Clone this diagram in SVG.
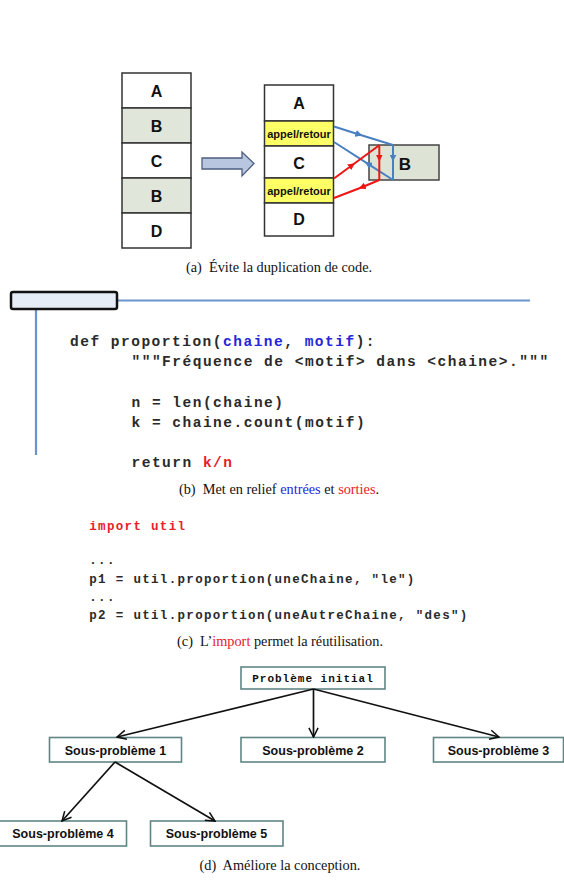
<svg xmlns="http://www.w3.org/2000/svg" width="564" height="896" viewBox="0 0 564 896">
<style>
  .cell{stroke:#333;stroke-width:1.5}
  .white{fill:#fff}
  .green{fill:#e0e6da}
  .yellow{fill:#ffff66}
  .big{font-family:"Liberation Sans",Arial,sans-serif;font-weight:bold;font-size:16px;fill:#111;text-anchor:middle}
  .small{font-family:"Liberation Sans",Arial,sans-serif;font-weight:bold;font-size:11px;fill:#111;text-anchor:middle}
  .cap{font-family:"Liberation Serif","Times New Roman",serif;font-size:14.3px;fill:#111;text-anchor:middle}
  .code{font-family:"Liberation Mono","Courier New",monospace;font-weight:bold;font-size:14.5px;letter-spacing:1.5px;fill:#2a2a2a}
  .code2{font-family:"Liberation Mono","Courier New",monospace;font-weight:bold;font-size:12.5px;letter-spacing:1.32px;fill:#2a2a2a}
  .blue{fill:#2626d9}
  .red{fill:#e8202a}
  .tbox{fill:#fff;stroke:#5f8585;stroke-width:1.6}
  .tlabel{font-family:"Liberation Sans",Arial,sans-serif;font-weight:bold;font-size:12.5px;fill:#111;text-anchor:middle}
  .tcode{font-family:"Liberation Mono","Courier New",monospace;font-weight:bold;font-size:11px;letter-spacing:1px;fill:#111;text-anchor:middle}
  .bl{fill:none;stroke:#4a7fc1;stroke-width:2}
  .rd{fill:none;stroke:#ee1515;stroke-width:2}
  .tree{fill:none;stroke:#111;stroke-width:1.7}
</style>
<defs>
  <marker id="mb" viewBox="0 0 10 10" refX="5" refY="5" markerWidth="7" markerHeight="7" markerUnits="userSpaceOnUse" orient="auto">
    <path d="M0,0 L10,5 L0,10 z" fill="#4a7fc1"/>
  </marker>
  <marker id="mr" viewBox="0 0 10 10" refX="5" refY="5" markerWidth="7" markerHeight="7" markerUnits="userSpaceOnUse" orient="auto">
    <path d="M0,0 L10,5 L0,10 z" fill="#ee1515"/>
  </marker>
  <marker id="ah" viewBox="0 0 12 12" refX="11" refY="6" markerWidth="11" markerHeight="11" markerUnits="userSpaceOnUse" orient="auto">
    <path d="M1,1 L11,6 L1,11" fill="none" stroke="#111" stroke-width="1.7"/>
  </marker>
</defs>
<rect width="564" height="896" fill="#fff"/>

<!-- (a) left column -->
<g id="left-stack">
  <rect class="cell white" x="122" y="73" width="69" height="35"/>
  <rect class="cell green" x="122" y="108" width="69" height="35"/>
  <rect class="cell white" x="122" y="143" width="69" height="35"/>
  <rect class="cell green" x="122" y="178" width="69" height="35"/>
  <rect class="cell white" x="122" y="213" width="69" height="35"/>
  <text class="big" x="156.5" y="96.5">A</text>
  <text class="big" x="156.5" y="131.5">B</text>
  <text class="big" x="156.5" y="166.5">C</text>
  <text class="big" x="156.5" y="201.5">B</text>
  <text class="big" x="156.5" y="236.5">D</text>
</g>
<g id="transform-arrow">
  <polygon points="202,158 242,158 242,152 254,163.5 242,176 242,169 202,169" fill="#b8c6e0" stroke="#4f5f80" stroke-width="1.3"/>
</g>
<g id="right-stack">
  <rect class="cell white" x="264.5" y="85" width="69" height="36"/>
  <rect class="cell yellow" x="264.5" y="121" width="69" height="25"/>
  <rect class="cell white" x="264.5" y="146" width="69" height="32"/>
  <rect class="cell yellow" x="264.5" y="178" width="69" height="25"/>
  <rect class="cell white" x="264.5" y="203" width="69" height="33"/>
  <text class="big" x="299" y="109">A</text>
  <text class="small" x="299" y="137.5">appel/retour</text>
  <text class="big" x="299" y="169">C</text>
  <text class="small" x="299" y="194.5">appel/retour</text>
  <text class="big" x="299" y="225">D</text>
</g>
<g id="B-box">
  <rect x="369" y="145" width="70" height="35" fill="#dde3d5" stroke="#444" stroke-width="1.5"/>
  <text class="big" x="405" y="169.5" style="font-size:17px">B</text>
</g>
<g id="connectors-a">
  <path class="bl" d="M334,126.5 L359,134.5 L393,145" marker-mid="url(#mb)"/>
  <path class="bl" d="M393,145 L393,158 L393,180" marker-mid="url(#mb)"/>
  <path class="bl" d="M393,180 L368,163.9 L334,142" marker-mid="url(#mb)"/>
  <path class="rd" d="M334,178.5 L352,165.2 L379.3,145.3" marker-mid="url(#mr)"/>
  <path class="rd" d="M379.3,145.3 L379.3,158 L379.3,180" marker-mid="url(#mr)"/>
  <path class="rd" d="M379.3,180 L362,187.2 L334,198" marker-mid="url(#mr)"/>
</g>
<text class="cap" x="279" y="271.5" xml:space="preserve">(a)  Évite la duplication de code.</text>

<!-- (b) -->
<g id="frame-b">
  <line x1="117" y1="300.5" x2="530" y2="300.5" stroke="#6b93cc" stroke-width="2"/>
  <line x1="36" y1="309" x2="36" y2="455" stroke="#6b93cc" stroke-width="2.2"/>
  <rect x="11" y="292" width="106" height="17" rx="2" fill="#e6ecf5" stroke="#111" stroke-width="2.5"/>
</g>
<g id="code-b">
  <text class="code" x="70" y="346">def proportion(<tspan class="blue">chaine</tspan>, <tspan class="blue">motif</tspan>):</text>
  <text class="code" x="131.5" y="365.7">"""Fréquence de &lt;motif&gt; dans &lt;chaine&gt;."""</text>
  <text class="code" x="131.5" y="407">n = len(chaine)</text>
  <text class="code" x="131.5" y="427">k = chaine.count(motif)</text>
  <text class="code" x="131.5" y="466.7">return <tspan class="red">k/n</tspan></text>
</g>
<text class="cap" x="279" y="494" xml:space="preserve">(b)  Met en relief <tspan fill="#2626d9">entrées</tspan> et <tspan fill="#e8202a">sorties</tspan>.</text>

<!-- (c) -->
<g id="code-c">
  <text class="code2 red" x="89.3" y="530">import util</text>
  <text class="code2" x="89.3" y="564">...</text>
  <text class="code2" x="89.3" y="583.3">p1 = util.proportion(uneChaine, "le")</text>
  <text class="code2" x="89.3" y="600.5">...</text>
  <text class="code2" x="89.3" y="619.3">p2 = util.proportion(uneAutreChaine, "des")</text>
</g>
<text class="cap" x="280" y="645.5" xml:space="preserve">(c)  L’<tspan fill="#e8202a">import</tspan> permet la réutilisation.</text>

<!-- (d) -->
<g id="root">
  <rect class="tbox" x="241" y="667" width="144" height="22"/>
  <text class="tcode" x="313" y="682">Problème initial</text>
</g>
<g id="sp1">
  <rect class="tbox" x="49.5" y="737.5" width="132" height="24.5"/>
  <text class="tlabel" x="115.5" y="754.5">Sous-problème 1</text>
</g>
<g id="sp2">
  <rect class="tbox" x="241" y="737.5" width="144" height="24.5"/>
  <text class="tlabel" x="313" y="754.5">Sous-problème 2</text>
</g>
<g id="sp3">
  <rect class="tbox" x="433.5" y="737.5" width="130" height="24.5"/>
  <text class="tlabel" x="498.5" y="754.5">Sous-problème 3</text>
</g>
<g id="sp4">
  <rect class="tbox" x="-1" y="821" width="127.5" height="25"/>
  <text class="tlabel" x="63" y="838">Sous-problème 4</text>
</g>
<g id="sp5">
  <rect class="tbox" x="150.5" y="821" width="132.5" height="25"/>
  <text class="tlabel" x="216.5" y="838">Sous-problème 5</text>
</g>
<g id="connectors-d">
  <line class="tree" x1="313.5" y1="689" x2="117" y2="737" marker-end="url(#ah)"/>
  <line class="tree" x1="313.5" y1="689" x2="313.5" y2="737" marker-end="url(#ah)"/>
  <line class="tree" x1="313.5" y1="689" x2="499" y2="737" marker-end="url(#ah)"/>
  <line class="tree" x1="115" y1="762" x2="62" y2="821" marker-end="url(#ah)"/>
  <line class="tree" x1="115" y1="762" x2="215" y2="821" marker-end="url(#ah)"/>
</g>
<text class="cap" x="280" y="870" xml:space="preserve">(d)  Améliore la conception.</text>
</svg>
